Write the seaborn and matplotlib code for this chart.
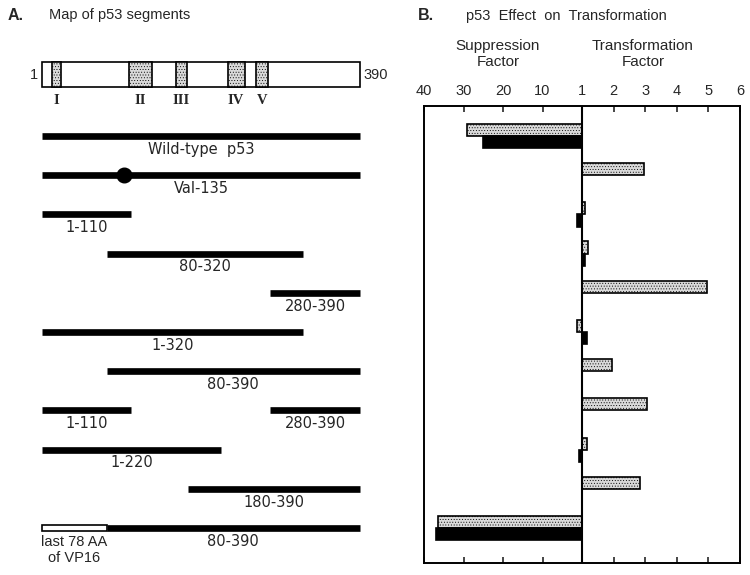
import numpy as np
import pandas as pd
import matplotlib
matplotlib.use("Agg")
import matplotlib.pyplot as plt
import seaborn as sns
from matplotlib.patches import Rectangle

# rows, top to bottom
constructs = ["Wild-type p53", "Val-135", "1-110", "80-320", "280-390", "1-320",
              "80-390", "1-110 + 280-390", "1-220", "180-390", "VP16 + 80-390"]

# p53 residues kept in each construct (panel A)
segments = [[(1, 390)], [(1, 390)], [(1, 110)], [(80, 320)], [(280, 390)], [(1, 320)],
            [(80, 390)], [(1, 110), (280, 390)], [(1, 220)], [(180, 390)], [(80, 390)]]
segment_labels = [["Wild-type  p53"], ["Val-135"], ["1-110"], ["80-320"], ["280-390"], ["1-320"],
                  ["80-390"], ["1-110", "280-390"], ["1-220"], ["180-390"], ["80-390"]]
vp16_part = (1, 80)      # last 78 AA of VP16, drawn in front of 80-390
val135_site = 101        # where the Val-135 dot sits on the drawing
p53_length = 390

domains = ["I", "II", "III", "IV", "V"]
domain_start = [13, 107, 165, 228, 263]
domain_end = [24, 135, 178, 249, 277]

# panel B: negative = suppression factor, positive = transformation factor
effect_stippled = [-29, 2.95, 1.1, 1.2, 4.95, -1.3, 1.95, 3.05, 1.15, 2.85, -36.5]
effect_solid = [-25, 1.0, -1.3, 1.1, 1.0, 1.17, 1.0, 1.0, -0.8, 1.0, -37]

tick_vals = [-40, -30, -20, -10, 0, 1, 2, 3, 4, 5]
tick_labels = ["40", "30", "20", "10", "1", "2", "3", "4", "5", "6"]

sns.set_style("white")
plt.rcParams["font.family"] = ["Liberation Sans", "DejaVu Sans"]
plt.rcParams["hatch.linewidth"] = 0.35

W, H = 750, 575
fig = plt.figure(figsize=(7.5, 5.75), dpi=100)


def fx(px):
    return px / W


def fy(py):
    return 1 - py / H


# ---------- panel B ----------
def to_pos(v):
    v = np.asarray(v, dtype=float)
    return np.where(v < 0, v, v - 1)


df = pd.DataFrame({
    "construct": constructs * 2,
    "expt": ["stippled"] * len(constructs) + ["solid"] * len(constructs),
    "pos": np.concatenate([to_pos(effect_stippled), to_pos(effect_solid)]),
})

axB = fig.add_axes([fx(424), fy(563), fx(740) - fx(424), fy(106) - fy(563)])
sns.barplot(data=df, x="pos", y="construct", hue="expt", orient="h",
            palette={"stippled": "#d9d9d9", "solid": "black"}, saturation=1,
            width=0.62, gap=0, edgecolor="black", linewidth=1.2,
            legend=False, errorbar=None, ax=axB)
for p in axB.containers[0]:
    p.set_hatch("......")


def fwd(x):
    x = np.asarray(x, dtype=float)
    return np.where(x < 0, x / 40, x / 5)


def inv(y):
    y = np.asarray(y, dtype=float)
    return np.where(y < 0, y * 40, y * 5)


axB.set_xscale("function", functions=(fwd, inv))
axB.set_xlim(-40, 5)
axB.set_ylim(10.89, -0.765)
axB.axvline(0, color="black", lw=1.5)
axB.set_xticks(tick_vals, labels=tick_labels)
axB.tick_params(axis="x", direction="in", length=4, width=1.2, top=True, bottom=True,
                labeltop=True, labelbottom=False, pad=6, labelsize=10.5)
axB.tick_params(axis="y", left=False, labelleft=False)
axB.set_xlabel("")
axB.set_ylabel("")
for s in axB.spines.values():
    s.set_linewidth(1.4)
    s.set_color("black")

fig.text(fx(418), fy(16), "B.", fontsize=11.5, fontweight="bold", va="center")
fig.text(fx(566), fy(16), "p53  Effect  on  Transformation", fontsize=10.5, ha="center", va="center")
fig.text(fx(498), fy(54), "Suppression\nFactor", fontsize=11, ha="center", va="center", linespacing=1.15)
fig.text(fx(643), fy(54), "Transformation\nFactor", fontsize=11, ha="center", va="center", linespacing=1.15)

# ---------- panel A ----------
px_per_res = 0.8175
axA = fig.add_axes([0, 0, fx(390), 1])
axA.axis("off")
axA.set_xlim(1 - 42 / px_per_res, 1 + (390 - 42) / px_per_res)
axA.set_ylim((H - 136) / 39.2, -136 / 39.2)

map_y = (74.5 - 136) / 39.2
map_h = 25 / 39.2
axA.add_patch(Rectangle((1, map_y - map_h / 2), p53_length - 1, map_h,
                        facecolor="white", edgecolor="black", lw=1.2))
for name, a, b in zip(domains, domain_start, domain_end):
    axA.add_patch(Rectangle((a, map_y - map_h / 2), b - a, map_h, facecolor="#d9d9d9",
                            edgecolor="black", lw=1.2, hatch="......"))
    axA.text((a + b) / 2, (100 - 136) / 39.2, name, ha="center", va="center",
             family="Liberation Serif", fontweight="bold", fontsize=10.5)
axA.text(-4, map_y, "1", ha="right", va="center", fontsize=10.5)
axA.text(394, map_y, "390", ha="left", va="center", fontsize=10.5)

for i, (segs, labs) in enumerate(zip(segments, segment_labels)):
    for (a, b), lab in zip(segs, labs):
        axA.hlines(i, a, b, color="black", lw=4.8, capstyle="butt")
        axA.text((a + b) / 2, i + 0.34, lab, ha="center", va="center",
                 fontsize=10.5, family="DejaVu Sans")

vp_row = constructs.index("VP16 + 80-390")
th = 6.5 / 39.2
axA.add_patch(Rectangle((vp16_part[0], vp_row - th / 2), vp16_part[1] - vp16_part[0], th,
                        facecolor="white", edgecolor="black", lw=1.2, zorder=3))
axA.text(sum(vp16_part) / 2, vp_row + 0.18, "last 78 AA\nof VP16", ha="center", va="top",
         fontsize=10.5, linespacing=1.15)
axA.plot(val135_site, constructs.index("Val-135"), "o", color="black", ms=10.5)

fig.text(fx(8), fy(15), "A.", fontsize=11.5, fontweight="bold", va="center")
fig.text(fx(49), fy(15), "Map of p53 segments", fontsize=10.5, va="center")

fig.savefig("out.png", dpi=100)
